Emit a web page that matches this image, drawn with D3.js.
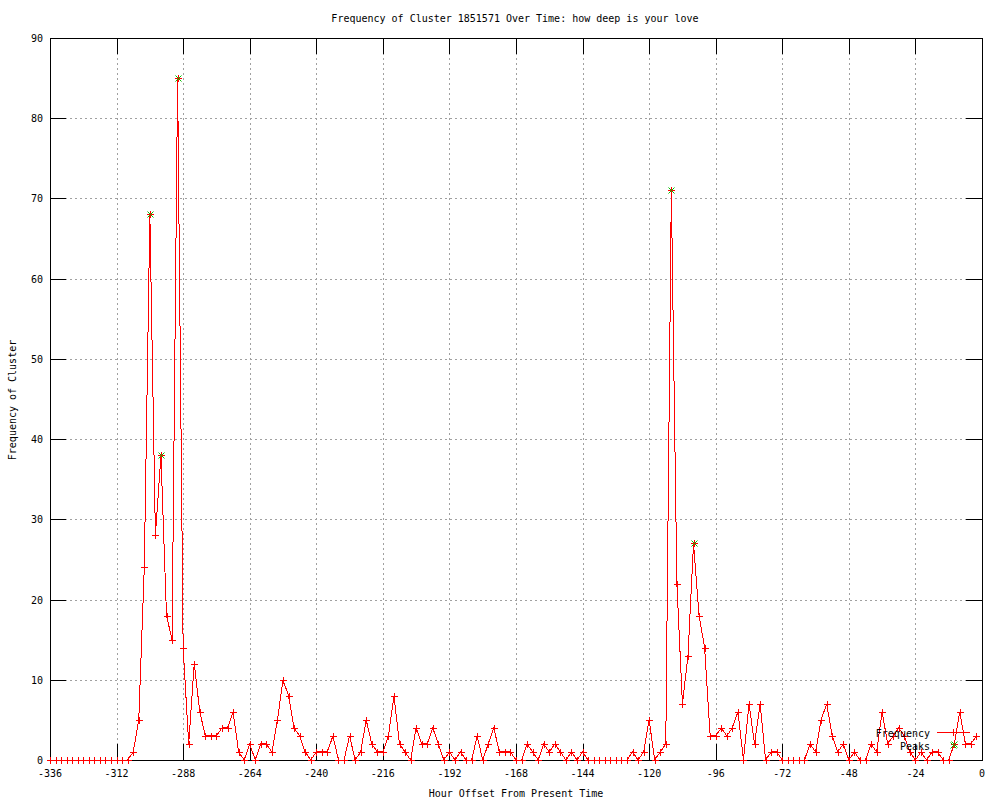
<!DOCTYPE html>
<html>
<head>
  <title>Frequency of Cluster</title>
  <script src="https://d3js.org/d3.v7.min.js"></script>
  <style>
    body { margin: 0; background: #fff; }
    text { font-family: "DejaVu Sans Mono", monospace; font-size: 10px; fill: #000; }
  </style>
</head>
<body>
  <div id="chart"></div>
  <script>
  // hours run from -336 to -2, one reading every 2 hours
  const startHour = -336;
  const stepHours = 2;
  const frequency = [
    0,0,0,0,0,0,0,0,0,0,0,0,0,0,0,
    1,5,24,68,28,38,18,15,85,14,
    2,12,6,3,3,3,4,4,6,1,
    0,2,0,2,2,1,5,10,8,4,
    3,1,0,1,1,1,3,0,0,3,
    0,1,5,2,1,1,3,8,2,1,
    0,4,2,2,4,2,0,1,0,1,
    0,0,3,0,2,4,1,1,1,0,
    0,2,1,0,2,1,2,1,0,1,
    0,1,0,0,0,0,0,0,0,0,
    1,0,1,5,0,1,2,71,22,7,
    13,27,18,14,3,3,4,3,4,6,
    0,7,2,7,0,1,1,0,0,0,
    0,0,2,1,5,7,3,1,2,0,
    1,0,0,2,1,6,2,3,4,3,
    1,0,1,0,1,1,0,0,2,6,
    2,2,3
  ];
  const peakHours = [-300, -296, -290, -112, -104, -10];
  const xTicks = [-336, -312, -288, -264, -240, -216, -192, -168, -144, -120, -96, -72, -48, -24, 0];
  const yTicks = [0, 10, 20, 30, 40, 50, 60, 70, 80, 90];

  const data = frequency.map((v, i) => ({ hour: startHour + i * stepHours, value: v }));
  const peaks = data.filter(d => peakHours.includes(d.hour));

  const W = 1000, H = 800;
  const plotLeft = 50, plotRight = 982, plotTop = 38, plotBottom = 760;

  const svg = d3.select("#chart").append("svg")
    .attr("width", W)
    .attr("height", H);

  const x = d3.scaleLinear().domain([-336, 0]).range([plotLeft, plotRight]);
  const y = d3.scaleLinear().domain([0, 90]).range([plotBottom, plotTop]);

  // grid
  const grid = svg.append("g")
    .attr("stroke", "#a0a0a0")
    .attr("stroke-dasharray", "2,3")
    .attr("shape-rendering", "crispEdges");
  grid.selectAll("line.gx").data(xTicks.slice(1, -1)).enter().append("line")
    .attr("x1", d => Math.round(x(d)) + 0.5).attr("x2", d => Math.round(x(d)) + 0.5)
    .attr("y1", plotTop).attr("y2", plotBottom);
  grid.selectAll("line.gy").data(yTicks.slice(1, -1)).enter().append("line")
    .attr("x1", plotLeft).attr("x2", plotRight)
    .attr("y1", d => Math.round(y(d)) + 0.5).attr("y2", d => Math.round(y(d)) + 0.5);

  // axes, gnuplot style ticks inward on all four sides
  const tickLen = 16;
  const axes = svg.append("g").attr("stroke", "#000").attr("shape-rendering", "crispEdges");
  xTicks.forEach(t => {
    const px = Math.round(x(t)) + 0.5;
    axes.append("line").attr("x1", px).attr("x2", px).attr("y1", plotBottom).attr("y2", plotBottom - tickLen);
    axes.append("line").attr("x1", px).attr("x2", px).attr("y1", plotTop).attr("y2", plotTop + tickLen);
  });
  yTicks.forEach(t => {
    const py = Math.round(y(t)) + 0.5;
    axes.append("line").attr("x1", plotLeft).attr("x2", plotLeft + tickLen).attr("y1", py).attr("y2", py);
    axes.append("line").attr("x1", plotRight).attr("x2", plotRight - tickLen).attr("y1", py).attr("y2", py);
  });
  axes.append("rect")
    .attr("x", plotLeft + 0.5).attr("y", plotTop + 0.5)
    .attr("width", plotRight - plotLeft).attr("height", plotBottom - plotTop)
    .attr("fill", "none");

  svg.append("g").selectAll("text").data(xTicks).enter().append("text")
    .attr("x", d => x(d)).attr("y", plotBottom + 17)
    .attr("text-anchor", "middle")
    .text(d => d);
  svg.append("g").selectAll("text").data(yTicks).enter().append("text")
    .attr("x", plotLeft - 7).attr("y", d => y(d) + 4)
    .attr("text-anchor", "end")
    .text(d => d);

  svg.append("text").attr("x", 515).attr("y", 22).attr("text-anchor", "middle")
    .text("Frequency of Cluster 1851571 Over Time: how deep is your love");
  svg.append("text").attr("x", 516).attr("y", 797).attr("text-anchor", "middle")
    .text("Hour Offset From Present Time");
  svg.append("text").attr("transform", "translate(16,400) rotate(-90)").attr("text-anchor", "middle")
    .text("Frequency of Cluster");

  // data line
  const line = d3.line().x(d => x(d.hour)).y(d => y(d.value));
  svg.append("path").datum(data)
    .attr("d", line)
    .attr("fill", "none")
    .attr("stroke", "#ff0000")
    .attr("stroke-width", 1)
    .attr("shape-rendering", "crispEdges");

  const plus = (g, cx, cy, color) => {
    g.append("path")
      .attr("d", `M${cx - 3.5},${cy}H${cx + 3.5}M${cx},${cy - 3.5}V${cy + 3.5}`)
      .attr("stroke", color).attr("fill", "none").attr("shape-rendering", "crispEdges");
  };
  const cross = (g, cx, cy, color) => {
    g.append("path")
      .attr("d", `M${cx - 3},${cy - 3}L${cx + 3},${cy + 3}M${cx - 3},${cy + 3}L${cx + 3},${cy - 3}`)
      .attr("stroke", color).attr("fill", "none").attr("stroke-width", 1);
  };

  const pts = svg.append("g");
  data.forEach(d => plus(pts, Math.round(x(d.hour)) + 0.5, Math.round(y(d.value)) + 0.5, "#ff0000"));
  const pk = svg.append("g");
  peaks.forEach(d => cross(pk, Math.round(x(d.hour)) + 0.5, Math.round(y(d.value)) + 0.5, "#00c000"));

  // legend
  const lg = svg.append("g");
  lg.append("text").attr("x", 930).attr("y", 737).attr("text-anchor", "end").text("Frequency");
  lg.append("line").attr("x1", 937).attr("x2", 970).attr("y1", 732.5).attr("y2", 732.5)
    .attr("stroke", "#ff0000").attr("shape-rendering", "crispEdges");
  plus(lg, 953.5, 732.5, "#ff0000");
  lg.append("text").attr("x", 930).attr("y", 750).attr("text-anchor", "end").text("Peaks");
  cross(lg, 953.5, 745.5, "#00c000");
  </script>
</body>
</html>
